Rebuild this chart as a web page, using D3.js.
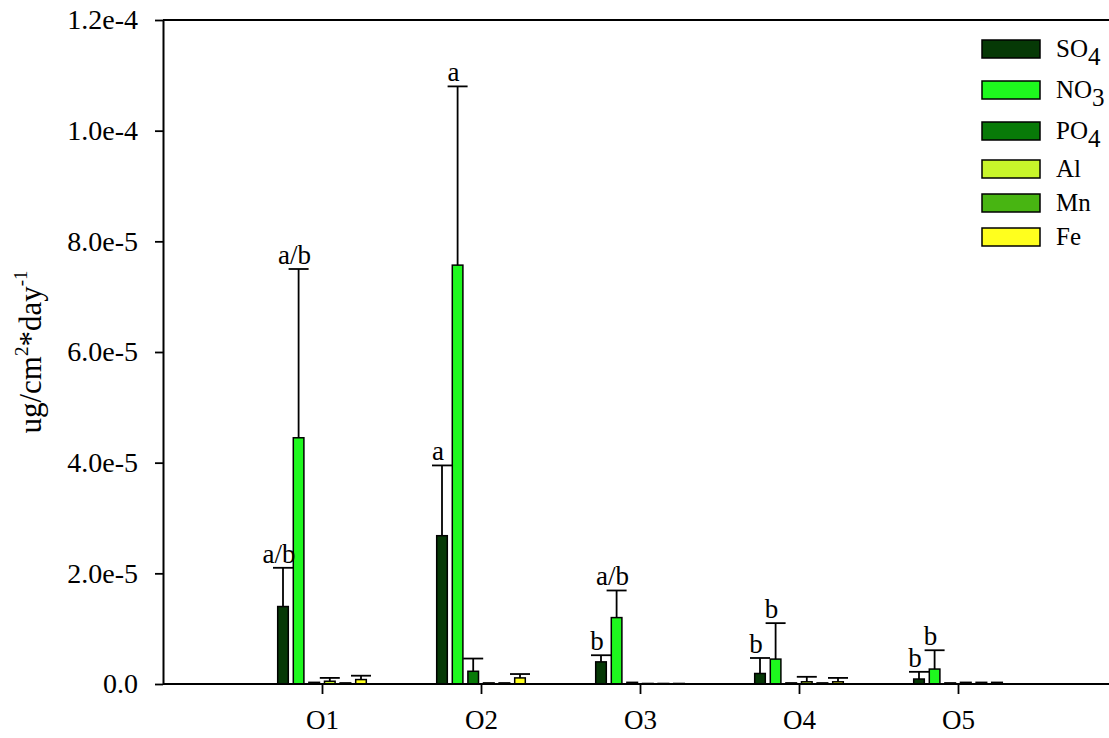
<!DOCTYPE html>
<html>
<head>
<meta charset="utf-8">
<script src="https://cdn.jsdelivr.net/npm/d3@7"></script>
<style>
  html, body { margin: 0; padding: 0; background: #fff; }
  svg { display: block; }
  text { font-family: "Liberation Serif", "Times New Roman", serif; fill: #000; }
</style>
</head>
<body>
<svg id="chart" width="1109" height="738"></svg>
<script>
// ---------- data (values in ug/cm^2*day^-1) ----------
const groups = ["O1", "O2", "O3", "O4", "O5"];
const seriesNames = ["SO4", "NO3", "PO4", "Al", "Mn", "Fe"];
const seriesBase = ["SO", "NO", "PO", "Al", "Mn", "Fe"];
const seriesSub  = ["4", "3", "4", "", "", ""];
const seriesColors = ["#063906", "#1ef81e", "#087a08", "#c8f52a", "#48b512", "#ffff1e"];

const so4 = [1.40e-5, 2.68e-5, 0.40e-5, 0.19e-5, 0.09e-5];
const no3 = [4.45e-5, 7.57e-5, 1.20e-5, 0.45e-5, 0.27e-5];
const po4 = [0.03e-5, 0.23e-5, 0.03e-5, 0.02e-5, 0.02e-5];
const al  = [0.05e-5, 0.02e-5, 0.01e-5, 0.04e-5, 0.03e-5];
const mn  = [0.02e-5, 0.02e-5, 0.01e-5, 0.02e-5, 0.03e-5];
const fe  = [0.08e-5, 0.11e-5, 0.01e-5, 0.04e-5, 0.03e-5];

// upper end of error bars (null = none drawn)
const so4Err = [2.10e-5, 3.95e-5, 0.52e-5, 0.47e-5, 0.22e-5];
const no3Err = [7.50e-5, 10.80e-5, 1.69e-5, 1.10e-5, 0.61e-5];
const po4Err = [null, 0.46e-5, null, null, null];
const alErr  = [0.11e-5, null, null, 0.13e-5, null];
const mnErr  = [null, null, null, null, null];
const feErr  = [0.15e-5, 0.18e-5, null, 0.11e-5, null];

// significance letters
const so4Labels = ["a/b", "a", "b", "b", "b"];
const no3Labels = ["a/b", "a", "a/b", "b", "b"];

const yTicks = [0, 2e-5, 4e-5, 6e-5, 8e-5, 1.0e-4, 1.2e-4];
const yTickLabels = ["0.0", "2.0e-5", "4.0e-5", "6.0e-5", "8.0e-5", "1.0e-4", "1.2e-4"];

const values = [so4, no3, po4, al, mn, fe];
const errs = [so4Err, no3Err, po4Err, alErr, mnErr, feErr];
const letters = [so4Labels, no3Labels, null, null, null, null];

// ---------- layout ----------
const svg = d3.select("#chart");
const mLeft = 163, mRight = 1115, mTop = 20, mBottom = 684;
const serif = "'Liberation Serif', 'Times New Roman', serif";

const y = d3.scaleLinear().domain([0, 1.2e-4]).range([mBottom, mTop]);
const x = d3.scalePoint().domain(groups).range([322, 958]);
const xi = d3.scaleBand().domain(seriesNames).range([-46.8, 46.8])
  .paddingInner(0.32).paddingOuter(0.16);

// frame line
svg.append("line").attr("x1", mLeft).attr("x2", mRight).attr("y1", mTop).attr("y2", mTop)
  .attr("stroke", "#000").attr("stroke-width", 2);

// bars
const records = [];
groups.forEach((g, gi) => {
  seriesNames.forEach((s, si) => {
    records.push({g, s, si, v: values[si][gi], e: errs[si][gi],
                  lab: letters[si] ? letters[si][gi] : null});
  });
});
const cx = d => x(d.g) + xi(d.s) + xi.bandwidth() / 2;

svg.append("g").selectAll("rect").data(records).join("rect")
  .attr("x", d => x(d.g) + xi(d.s))
  .attr("y", d => y(d.v))
  .attr("width", xi.bandwidth())
  .attr("height", d => y(0) - y(d.v))
  .attr("fill", d => seriesColors[d.si])
  .attr("stroke", "#000").attr("stroke-width", 1.5);

// error bars
const withErr = records.filter(d => d.e != null);
const gErr = svg.append("g").attr("stroke", "#000").attr("stroke-width", 1.8);
gErr.selectAll("line.v").data(withErr).join("line").attr("class", "v")
  .attr("x1", cx).attr("x2", cx)
  .attr("y1", d => y(d.v)).attr("y2", d => y(d.e));
gErr.selectAll("line.c").data(withErr).join("line").attr("class", "c")
  .attr("x1", d => cx(d) - 10).attr("x2", d => cx(d) + 10)
  .attr("y1", d => y(d.e)).attr("y2", d => y(d.e));

// significance letters
svg.append("g").selectAll("text").data(records.filter(d => d.lab))
  .join("text")
  .attr("x", d => cx(d) - 4)
  .attr("y", d => y(d.e != null ? d.e : d.v) - 5)
  .attr("text-anchor", "middle")
  .style("font-size", "27px")
  .text(d => d.lab);

// x axis
svg.append("line").attr("x1", mLeft).attr("x2", mRight).attr("y1", mBottom).attr("y2", mBottom)
  .attr("stroke", "#000").attr("stroke-width", 2);
const xAxis = svg.append("g").attr("transform", `translate(0,${mBottom})`)
  .call(d3.axisBottom(x).tickSize(10).tickPadding(16));
xAxis.select(".domain").remove();
xAxis.selectAll(".tick line").attr("stroke-width", 1.8);
xAxis.selectAll(".tick text").style("font-size", "27px").style("font-family", serif);

// y axis
const yAxis = svg.append("g").attr("transform", `translate(${mLeft},0)`)
  .call(d3.axisLeft(y).tickValues(yTicks).tickSize(8).tickSizeOuter(0).tickPadding(17)
    .tickFormat((d, i) => yTickLabels[i]));
yAxis.select(".domain").attr("stroke-width", 2);
yAxis.selectAll(".tick line").attr("stroke-width", 1.8);
yAxis.selectAll(".tick text").style("font-size", "28px").style("font-family", serif);

// y title
const yt = svg.append("text")
  .attr("transform", `translate(41,${(mTop + mBottom) / 2}) rotate(-90)`)
  .attr("text-anchor", "middle")
  .style("font-size", "31px");
yt.append("tspan").text("ug/cm");
yt.append("tspan").attr("dy", -13).style("font-size", "19px").text("2");
yt.append("tspan").attr("dy", 13).text("*day");
yt.append("tspan").attr("dy", -14).style("font-size", "19px").text("-1");

// legend
const legY = [40, 81, 122, 160, 194, 228];
const leg = svg.append("g");
seriesNames.forEach((s, i) => {
  leg.append("rect").attr("x", 982).attr("y", legY[i]).attr("width", 58).attr("height", 18)
    .attr("fill", seriesColors[i]).attr("stroke", "#000").attr("stroke-width", 1.5);
  const t = leg.append("text").attr("x", 1056).attr("y", legY[i] + 17).style("font-size", "25px");
  t.append("tspan").text(seriesBase[i]);
  if (seriesSub[i]) t.append("tspan").attr("dy", 8).style("font-size", "25px").text(seriesSub[i]);
});
</script>
</body>
</html>
